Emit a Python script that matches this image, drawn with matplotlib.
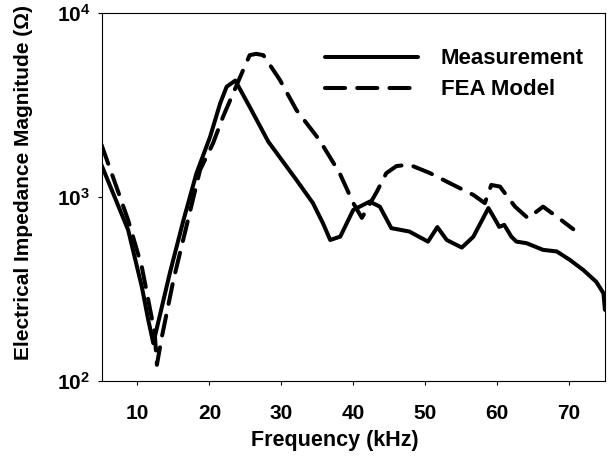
import numpy as np
import matplotlib
matplotlib.use("Agg")
import matplotlib.pyplot as plt
from matplotlib.ticker import NullLocator, FixedLocator, FixedFormatter

plt.rcParams['font.family'] = ['Liberation Sans', 'DejaVu Sans']
plt.rcParams['mathtext.fontset'] = 'custom'
plt.rcParams['mathtext.rm'] = 'Liberation Sans'
plt.rcParams['mathtext.bf'] = 'Liberation Sans:bold'

### Donnees (kHz, Ohm)
f_mes = [5.0, 6.9, 8.7, 10.6, 11.5, 12.2, 13.4, 14.5, 16.4, 18.2, 20.1, 21.5, 22.4,
         23.6, 25.6, 28.2, 32.1, 34.4, 35.8, 36.8, 38.2, 40.0, 40.9, 42.3, 43.7,
         45.3, 47.8, 50.4, 51.7, 53.0, 55.1, 56.7, 58.8, 59.9, 60.3, 61.0, 62.0,
         62.7, 64.1, 66.4, 68.3, 70.1, 72.0, 73.8, 74.8, 75.0]
z_mes = [1490, 982, 661, 325, 214, 160, 253, 385, 748, 1343, 2123, 3228, 3975,
         4290, 3090, 1995, 1237, 925, 718, 583, 608, 849, 885, 943, 885,
         676, 648, 571, 685, 583, 530, 607, 869, 734, 687, 704, 607,
         571, 560, 515, 505, 455, 400, 345, 299, 243]

f_fea = [5.0, 6.9, 8.7, 10.6, 11.5, 12.4, 12.7, 13.4, 15.0, 16.8, 18.7, 20.5, 21.9,
         23.1, 24.5, 25.6, 26.5, 27.5, 29.8, 32.1, 35.3, 38.1, 40.0, 41.2, 43.3,
         44.6, 46.0, 47.4, 48.3, 50.7, 53.0, 56.7, 58.3, 59.2, 60.4, 62.5, 64.3,
         66.4, 68.3, 70.6]
z_fea = [1920, 1186, 748, 417, 275, 181, 122, 174, 353, 689, 1400, 1955, 2730,
         3510, 4700, 5900, 6000, 5900, 4330, 2970, 2040, 1350, 927, 769, 1070,
         1346, 1470, 1493, 1470, 1346, 1211, 1025, 925, 1161, 1138, 885, 766,
         885, 781, 667]

fig = plt.figure(figsize=(6.16, 4.66), dpi=100)
ax = fig.add_axes([0.1648, 0.183, 0.8172, 0.789])

lw = 2.9
ax.plot(f_mes, z_mes, color='black', lw=lw, solid_capstyle='round',
        solid_joinstyle='round', label='Measurement')
ax.plot(f_fea, z_fea, color='black', lw=lw, dashes=(5, 3), dash_capstyle='round',
        dash_joinstyle='round', label='FEA Model')

ax.set_yscale('log')
ax.set_xlim(5, 75)
ax.set_ylim(100, 10000)

ax.xaxis.set_major_locator(FixedLocator([10, 20, 30, 40, 50, 60, 70]))
ax.yaxis.set_major_locator(FixedLocator([100, 1000, 10000]))
ax.yaxis.set_major_formatter(FixedFormatter([r'$\mathbf{10^2}$', r'$\mathbf{10^3}$', r'$\mathbf{10^4}$']))
ax.yaxis.set_minor_locator(NullLocator())

ax.tick_params(direction='out', length=3, width=0.8, labelsize=15, pad=5)
ax.tick_params(axis='x', pad=13.5)
for lab in ax.get_xticklabels():
    lab.set_fontweight('bold')
for s in ax.spines.values():
    s.set_linewidth(0.8)

ax.set_xlabel('Frequency (kHz)', fontsize=15.5, fontweight='bold')
ax.xaxis.set_label_coords(0.463, -0.134)
ax.set_ylabel('Electrical Impedance Magnitude (\u03a9)', fontsize=15, fontweight='bold')
ax.yaxis.set_label_coords(-0.136, 0.54)

leg = ax.legend(loc='center left', bbox_to_anchor=(0.444, 0.833), frameon=False,
                borderpad=0, borderaxespad=0, handlelength=4.2, handletextpad=1.0,
                labelspacing=0.45, prop={'size': 16, 'weight': 'bold'})

fig.savefig('out.png', dpi=100)
